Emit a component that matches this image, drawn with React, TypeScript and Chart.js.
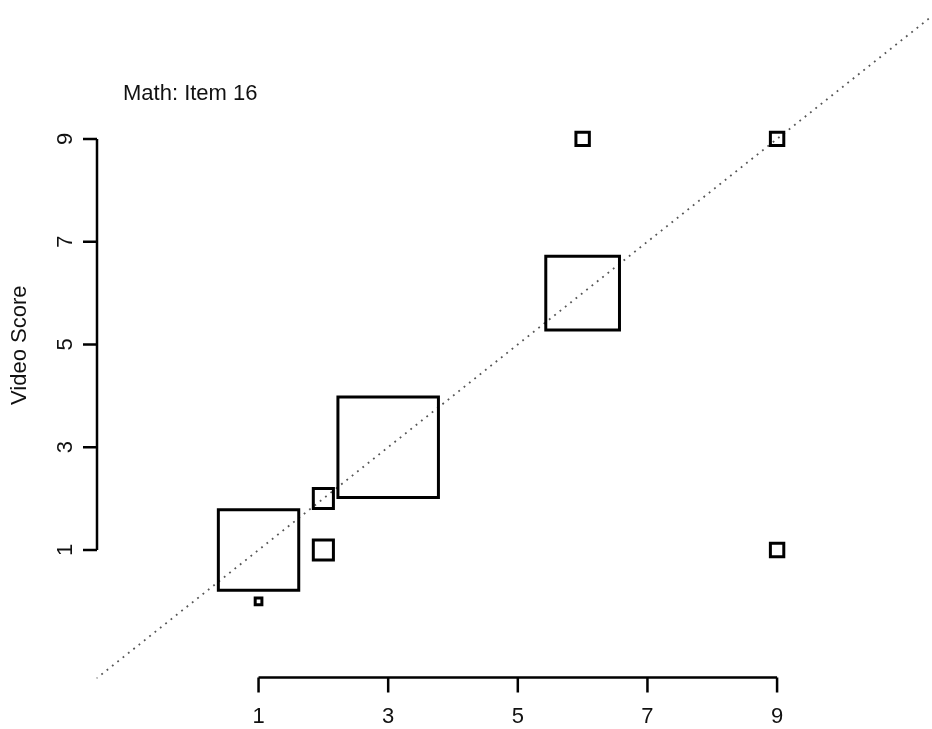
import React, { useEffect, useRef } from "react";
import { Chart, registerables } from "chart.js";

Chart.register(...registerables);

// ---- data ----
const titleText = "Math: Item 16";
const yAxisTitle = "Video Score";
const xTickValues = [1, 3, 5, 7, 9];
const yTickValues = [1, 3, 5, 7, 9];
// each square: x score, y (video) score, frequency (square side ∝ frequency)
const xScores = [1, 1, 2, 2, 3, 6, 6, 9, 9];
const videoScores = [0, 1, 1, 2, 3, 6, 9, 9, 1];
const frequencies = [1, 12, 3, 3, 15, 11, 2, 2, 2];
// identity reference line y = x
const identityLine = [-2, 13];

// ---- layout constants ----
const W = 932;
const H = 729;
const X_MIN = -1.5;
const X_MAX = 11.39;
const Y_MIN = -1.5;
const Y_MAX = 11.47;
const PX_PER_FREQ = 6.7;
const FONT = "22px 'Liberation Sans', Arial, Helvetica, sans-serif";

const rAxesPlugin = {
  id: "rAxes",
  afterDraw(chart: any) {
    const { ctx, chartArea } = chart;
    const xs = chart.scales.x;
    const ys = chart.scales.y;
    ctx.save();
    ctx.strokeStyle = "#000";
    ctx.fillStyle = "#111";
    ctx.lineWidth = 2.5;
    ctx.lineCap = "butt";

    // x axis
    const axY = chartArea.bottom - 1;
    const x0 = xs.getPixelForValue(xTickValues[0]);
    const x1 = xs.getPixelForValue(xTickValues[xTickValues.length - 1]);
    ctx.beginPath();
    ctx.moveTo(x0, axY);
    ctx.lineTo(x1, axY);
    for (const v of xTickValues) {
      const px = xs.getPixelForValue(v);
      ctx.moveTo(px, axY);
      ctx.lineTo(px, axY + 15);
    }
    ctx.stroke();
    ctx.font = FONT;
    ctx.textAlign = "center";
    ctx.textBaseline = "middle";
    for (const v of xTickValues) {
      ctx.fillText(String(v), xs.getPixelForValue(v), axY + 40);
    }

    // y axis
    const axX = chartArea.left + 0.5;
    const y0 = ys.getPixelForValue(yTickValues[0]);
    const y1 = ys.getPixelForValue(yTickValues[yTickValues.length - 1]);
    ctx.beginPath();
    ctx.moveTo(axX, y0);
    ctx.lineTo(axX, y1);
    for (const v of yTickValues) {
      const py = ys.getPixelForValue(v);
      ctx.moveTo(axX, py);
      ctx.lineTo(axX - 14, py);
    }
    ctx.stroke();
    for (const v of yTickValues) {
      const py = ys.getPixelForValue(v);
      ctx.save();
      ctx.translate(axX - 31, py);
      ctx.rotate(-Math.PI / 2);
      ctx.fillText(String(v), 0, 0);
      ctx.restore();
    }

    // y axis title
    ctx.save();
    ctx.translate(20, (chartArea.top + chartArea.bottom) / 2);
    ctx.rotate(-Math.PI / 2);
    ctx.fillText(yAxisTitle, 0, 0);
    ctx.restore();

    // title
    ctx.textAlign = "left";
    ctx.textBaseline = "alphabetic";
    ctx.fillText(titleText, 123, 100);
    ctx.restore();
  },
};

export default function App() {
  const ref = useRef<HTMLCanvasElement | null>(null);

  useEffect(() => {
    if (!ref.current) return;
    const squares = xScores.map((x, i) => ({ x, y: videoScores[i] }));
    const chart = new Chart(ref.current, {
      type: "scatter",
      data: {
        datasets: [
          {
            label: "scores",
            data: squares,
            pointStyle: "rect",
            pointRadius: (c: any) => (frequencies[c.dataIndex] * PX_PER_FREQ) / Math.SQRT2,
            pointHoverRadius: (c: any) => (frequencies[c.dataIndex] * PX_PER_FREQ) / Math.SQRT2,
            pointBorderWidth: 3,
            pointBorderColor: "#000",
            pointBackgroundColor: "rgba(0,0,0,0)",
            borderColor: "#000",
            backgroundColor: "rgba(0,0,0,0)",
            order: 0,
            clip: false,
          } as any,
          {
            label: "y = x",
            data: identityLine.map((v) => ({ x: v, y: v })),
            showLine: true,
            borderColor: "#555",
            borderWidth: 1.8,
            borderDash: [1.8, 5],
            pointRadius: 0,
            order: 1,
          } as any,
        ],
      },
      options: {
        animation: false,
        responsive: false,
        devicePixelRatio: 1,
        events: [],
        layout: {
          autoPadding: false,
          padding: { left: 96.5, right: 0, top: 12, bottom: H - 678.4 },
        },
        plugins: {
          legend: { display: false },
          tooltip: { enabled: false },
          title: { display: false },
        },
        scales: {
          x: { type: "linear", min: X_MIN, max: X_MAX, display: false },
          y: { type: "linear", min: Y_MIN, max: Y_MAX, display: false },
        },
      },
      plugins: [rAxesPlugin],
    });
    return () => chart.destroy();
  }, []);

  return (
    <div style={{ position: "fixed", left: 0, top: 0, width: W, height: H, background: "#fff" }}>
      <canvas ref={ref} width={W} height={H} style={{ display: "block", width: W, height: H }} />
    </div>
  );
}
